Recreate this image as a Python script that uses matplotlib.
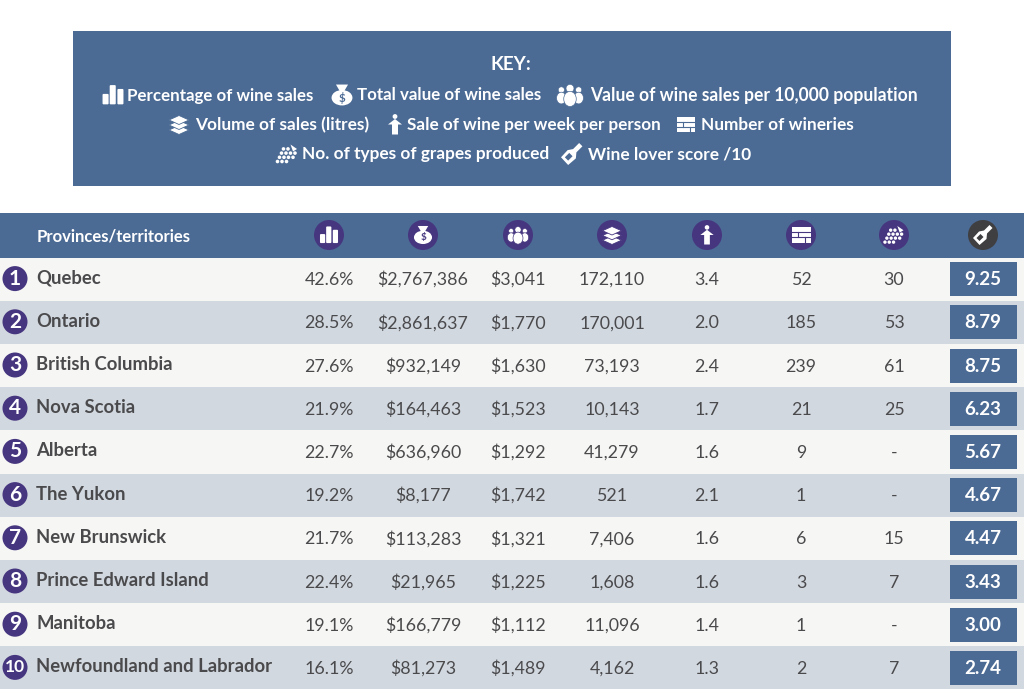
import matplotlib
matplotlib.use('Agg')
import matplotlib.pyplot as plt
from matplotlib.patches import Rectangle, Circle, Polygon, Ellipse, FancyBboxPatch

plt.rcParams['font.family'] = ['Lato', 'DejaVu Sans']

# ── data ──────────────────────────────────────────────────────────────────────
provinces = ["Quebec", "Ontario", "British Columbia", "Nova Scotia", "Alberta", "The Yukon",
             "New Brunswick", "Prince Edward Island", "Manitoba", "Newfoundland and Labrador"]
pct_sales = ["42.6%", "28.5%", "27.6%", "21.9%", "22.7%", "19.2%", "21.7%", "22.4%", "19.1%", "16.1%"]
total_value = ["$2,767,386", "$2,861,637", "$932,149", "$164,463", "$636,960",
               "$8,177", "$113,283", "$21,965", "$166,779", "$81,273"]
value_per_10k = ["$3,041", "$1,770", "$1,630", "$1,523", "$1,292",
                 "$1,742", "$1,321", "$1,225", "$1,112", "$1,489"]
volume = ["172,110", "170,001", "73,193", "10,143", "41,279", "521", "7,406", "1,608", "11,096", "4,162"]
per_week = ["3.4", "2.0", "2.4", "1.7", "1.6", "2.1", "1.6", "1.6", "1.4", "1.3"]
wineries = ["52", "185", "239", "21", "9", "1", "6", "3", "1", "2"]
grapes = ["30", "53", "61", "25", "-", "-", "15", "7", "-", "7"]
scores = ["9.25", "8.79", "8.75", "6.23", "5.67", "4.67", "4.47", "3.43", "3.00", "2.74"]

columns = [pct_sales, total_value, value_per_10k, volume, per_week, wineries, grapes]
col_x = [329, 423, 518, 612, 707, 801, 894]
score_x = 983
icon_names = ["bars", "bag", "people", "layers", "person", "bricks", "grapes"]

BLUE = "#4b6a94"
PURPLE = "#46367f"
DARK = "#3f3f41"
TEXT = "#4a4a4c"
ROW_LIGHT = "#f6f6f4"
ROW_DARK = "#d2d8e0"

fig = plt.figure(figsize=(10.24, 6.89), dpi=100)
ax = fig.add_axes([0, 0, 1, 1])
ax.set_xlim(0, 1024)
ax.set_ylim(689, 0)
ax.axis('off')


# ── little icons, s is the half size in px ────────────────────────────────────
def draw_icon(name, x, y, s, c, bg):
    if name == "bars":
        for dx, h in [(-0.95, 0.95), (-0.3, 1.75), (0.4, 1.4)]:
            w = 0.55
            ax.add_patch(FancyBboxPatch((x + dx * s, y + (0.85 - h) * s), w * s, h * s,
                                        boxstyle="round,pad=0,rounding_size=1", fc=c, ec='none'))
    elif name == "bag":
        ax.add_patch(Ellipse((x, y + 0.25 * s), 1.9 * s, 1.4 * s, fc=c, ec='none'))
        ax.add_patch(Polygon([(x - 0.55 * s, y - 0.95 * s), (x + 0.55 * s, y - 0.95 * s),
                              (x + 0.2 * s, y - 0.35 * s), (x - 0.2 * s, y - 0.35 * s)], fc=c, ec='none'))
        ax.text(x, y + 0.3 * s, "$", color=bg, fontsize=s * 0.75, fontweight='bold', ha='center', va='center')
    elif name == "people":
        for dx, k in [(-0.72, 0.85), (0.72, 0.85), (0, 1.1)]:
            ax.add_patch(Circle((x + dx * s, y - 0.5 * s * k), 0.3 * s * k, fc=c, ec=bg, lw=0.4))
            ax.add_patch(Ellipse((x + dx * s, y + 0.3 * s * k), 0.95 * s * k, 1.15 * s * k, fc=c, ec=bg, lw=0.5))
    elif name == "layers":
        for dy in [0.55, 0.05, -0.45]:
            ax.add_patch(Polygon([(x - s, y + dy * s), (x, y + (dy - 0.45) * s),
                                  (x + s, y + dy * s), (x, y + (dy + 0.45) * s)], fc=c, ec=bg, lw=0.6))
    elif name == "person":
        ax.add_patch(Circle((x, y - 0.8 * s), 0.24 * s, fc=c, ec='none'))
        ax.add_patch(Polygon([(x, y - 0.55 * s), (x + 0.7 * s, y), (x + 0.3 * s, y),
                              (x + 0.3 * s, y + s), (x - 0.3 * s, y + s), (x - 0.3 * s, y),
                              (x - 0.7 * s, y)], fc=c, ec='none'))
    elif name == "bricks":
        ax.add_patch(Rectangle((x - s, y - 0.85 * s), 2 * s, 1.7 * s, fc=c, ec='none'))
        ax.plot([x - s, x + s], [y - 0.3 * s, y - 0.3 * s], color=bg, lw=0.8)
        ax.plot([x - s, x + s], [y + 0.25 * s, y + 0.25 * s], color=bg, lw=0.8)
        ax.plot([x - 0.3 * s, x - 0.3 * s], [y - 0.3 * s, y + 0.25 * s], color=bg, lw=0.8)
        ax.plot([x + 0.4 * s, x + 0.4 * s], [y + 0.25 * s, y + 0.85 * s], color=bg, lw=0.8)
    elif name == "grapes":
        for r, n in enumerate([3, 4, 4, 2]):
            for i in range(n):
                ax.add_patch(Circle((x + (-0.95 + r * 0.2 + i * 0.45) * s,
                                     y + (0.75 - r * 0.42) * s), 0.18 * s, fc=c, ec='none'))
        ax.add_patch(Polygon([(x + 0.35 * s, y - 0.95 * s), (x + s, y - 0.5 * s), (x + 0.6 * s, y - 0.25 * s)],
                             fc=c, ec='none'))
    elif name == "bottle":
        ax.add_patch(Polygon([(x + 0.95 * s, y - 0.7 * s), (x + 0.65 * s, y - s), (x + 0.1 * s, y - 0.45 * s),
                              (x - 0.4 * s, y - 0.35 * s), (x - s, y + 0.3 * s), (x - 0.35 * s, y + s),
                              (x + 0.35 * s, y + 0.4 * s), (x + 0.4 * s, y - 0.15 * s)], fc=c, ec='none'))
        ax.add_patch(Polygon([(x - 0.25 * s, y - 0.1 * s), (x + 0.05 * s, y + 0.2 * s),
                              (x - 0.35 * s, y + 0.6 * s), (x - 0.65 * s, y + 0.3 * s)], fc=bg, ec='none'))


# ── key box ───────────────────────────────────────────────────────────────────
ax.add_patch(Rectangle((73, 31), 878, 155, fc=BLUE, ec='none'))
ax.text(511, 70.5, "KEY:", color='white', fontsize=13.5, fontweight='bold', ha='center', va='baseline')

key_items = [
    ("bars", 113, 11, 127, "Percentage of wine sales", 95, 12.2),
    ("bag", 342, 11, 357, "Total value of wine sales", 95, 12.2),
    ("people", 570, 12, 590, "Value of wine sales per 10,000 population", 95, 12.65),
    ("layers", 179, 10, 195, "Volume of sales (litres)", 124.5, 12.4),
    ("person", 395, 10, 407, "Sale of wine per week per person", 124.5, 12.35),
    ("bricks", 686, 9, 701, "Number of wineries", 124.5, 12.4),
    ("grapes", 287, 10, 302, "No. of types of grapes produced", 154, 12.4),
    ("bottle", 572, 11, 588, "Wine lover score /10", 154, 12.4),
]
for icon, ix, s, tx, label, y, size in key_items:
    draw_icon(icon, ix, y, s, 'white', BLUE)
    ax.text(tx, y + 5.5, label, color='white', fontsize=size, fontweight='bold', ha='left', va='baseline')

# ── table ─────────────────────────────────────────────────────────────────────
ax.add_patch(Rectangle((0, 213), 1024, 44.5, fc=BLUE, ec='none'))
ax.text(37, 241, "Provinces/territories", color='white', fontsize=12, fontweight='bold', ha='left', va='baseline')

for x, icon in zip(col_x, icon_names):
    ax.add_patch(Circle((x, 235), 15, fc=PURPLE, ec='none'))
    draw_icon(icon, x, 235, 9.5, 'white', PURPLE)
ax.add_patch(Circle((score_x, 235), 15, fc=DARK, ec='none'))
draw_icon("bottle", score_x, 235, 10, 'white', DARK)

row_h = 43.2
row_top = 257.5
for i, name in enumerate(provinces):
    top = row_top + i * row_h
    cy = top + row_h / 2
    ax.add_patch(Rectangle((0, top), 1024, row_h, fc=ROW_DARK if i % 2 else ROW_LIGHT, ec='none'))
    ax.add_patch(Circle((15, cy - 0.5), 12.5, fc=PURPLE, ec='none'))
    ax.text(15, cy - 0.5, str(i + 1), color='white', fontsize=15 if i < 9 else 12.5, fontweight='bold',
            ha='center', va='center')
    ax.text(36.5, cy + 4.5, name, color=TEXT, fontsize=13.3, fontweight='bold', ha='left', va='baseline')
    for x, col in zip(col_x, columns):
        ax.text(x, cy + 6, col[i], color=TEXT, fontsize=12.8, ha='center', va='baseline')
    ax.add_patch(Rectangle((950, cy - 17), 66.5, 34, fc=BLUE, ec='none'))
    ax.text(score_x, cy + 6, scores[i], color='white', fontsize=13.5, fontweight='bold', ha='center', va='baseline')

fig.savefig("out.png", dpi=100)
